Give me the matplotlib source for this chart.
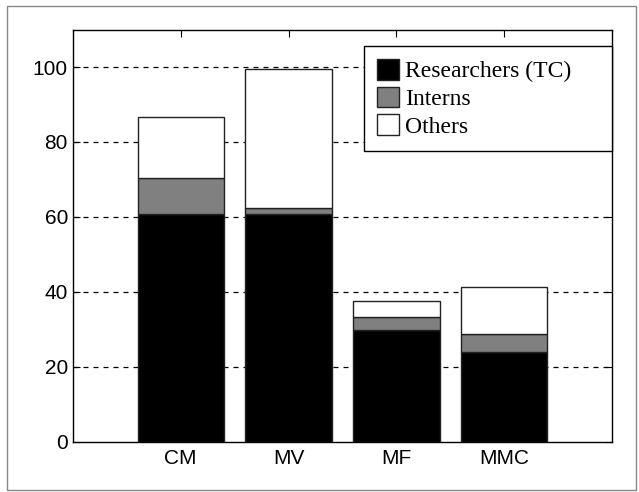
import matplotlib
matplotlib.use("Agg")
import matplotlib.pyplot as plt
from matplotlib.patches import Rectangle
import numpy as np

categories = ["CM", "MV", "MF", "MMC"]
researchers = [60.9, 60.9, 29.8, 24.0]
interns = [9.5, 1.6, 3.4, 4.7]
others = [16.2, 37.0, 4.4, 12.5]
series_labels = ["Researchers (TC)", "Interns", "Others"]
colors = ["#000000", "#808080", "#ffffff"]
yticks = [0, 20, 40, 60, 80, 100]

fig = plt.figure(figsize=(6.39, 4.92), dpi=100)
ax = fig.add_axes([0.114, 0.102, 0.844, 0.838])

x = np.arange(1, len(categories) + 1)
bottoms = np.zeros(len(categories))
handles = []
for vals, lab, col in zip([researchers, interns, others], series_labels, colors):
    h = ax.bar(x, vals, width=0.8, bottom=bottoms, color=col, edgecolor="#222222",
               linewidth=1.0, label=lab, zorder=3)
    handles.append(h)
    bottoms = bottoms + np.array(vals)

ax.set_xlim(0, 5)
ax.set_ylim(0, 110)
ax.set_xticks(x)
ax.set_xticklabels(categories, fontsize=15, family="Liberation Sans")
ax.set_yticks(yticks)
ax.set_yticklabels([str(t) for t in yticks], fontsize=15, family="Liberation Sans")
ax.tick_params(direction="in", top=True, right=True, length=5, width=0.8)
ax.tick_params(axis="x", pad=5)
ax.tick_params(axis="y", pad=3.5)
for t in yticks[1:]:
    ax.axhline(t, color="black", linestyle=(0, (4, 4)), linewidth=0.9, zorder=1)
for s in ax.spines.values():
    s.set_linewidth(1.0)
    s.set_color("black")

leg = ax.legend(handles=handles, labels=series_labels, loc="upper left",
                bbox_to_anchor=(0.540, 0.0, 0.459, 0.9595), mode="expand",
                prop={"family": "Liberation Serif", "size": 17},
                fancybox=False, framealpha=1, edgecolor="black",
                handlelength=0.95, handleheight=0.95, handletextpad=0.25,
                labelspacing=0.18, borderpad=0.55, borderaxespad=0)
leg.get_frame().set_linewidth(1.0)

fig.patches.append(Rectangle((0.011, 0.005), 0.984, 0.982, transform=fig.transFigure,
                             fill=False, edgecolor="#888888", linewidth=1.0))

fig.savefig("out.png", dpi=100, facecolor="white")
